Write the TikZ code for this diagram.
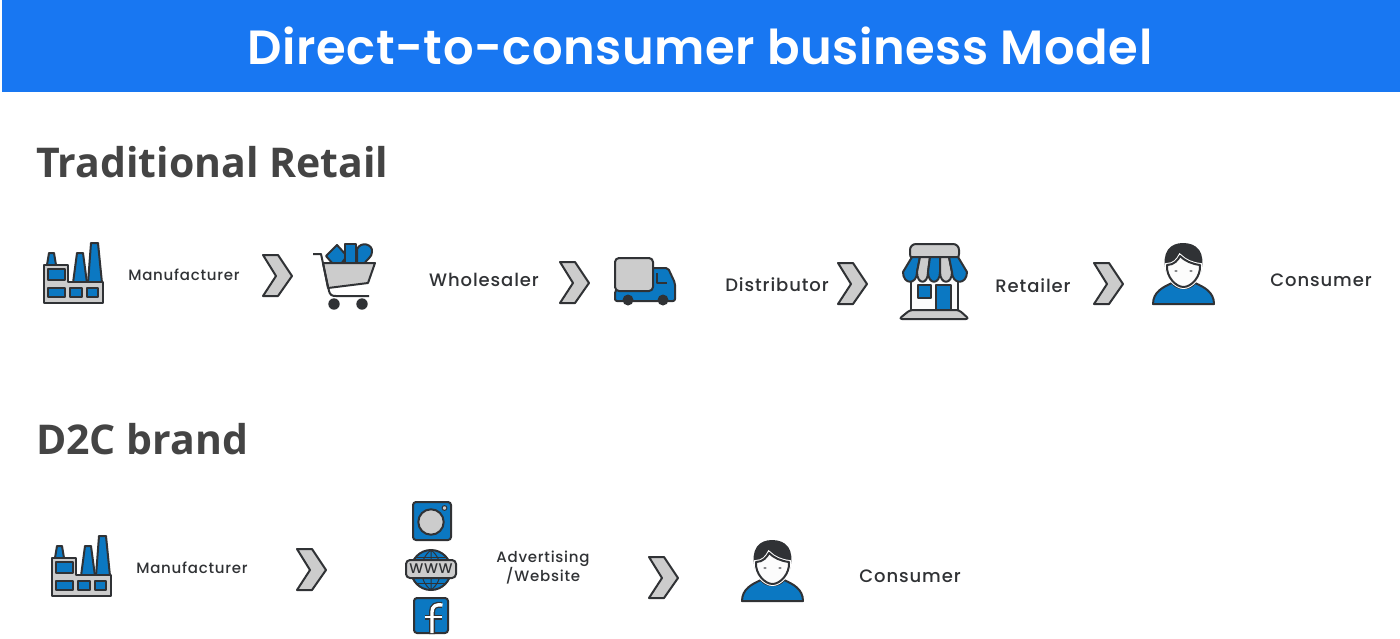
\documentclass[tikz,border=0pt]{standalone}
\usepackage{fontspec}
\setmainfont{Poppins}
\newfontfamily\headfont{Open Sans}
\newfontfamily\titlefont[LetterSpace=1.2]{Poppins SemiBold}
\newfontfamily\lblfont[LetterSpace=5]{Poppins Medium}
\usetikzlibrary{positioning}

\definecolor{bannerblue}{HTML}{1877F2}
\definecolor{iconblue}{HTML}{0B78C2}
\definecolor{icongrey}{HTML}{CCCCCC}
\definecolor{iconline}{HTML}{303235}
\definecolor{headgrey}{HTML}{444444}

\tikzset{
 icon/.style={draw=iconline, line width=2pt, line join=round},
 headtext/.style={font=\headfont\bfseries\fontsize{41}{44}\selectfont, text=headgrey, anchor=west, inner sep=0pt},
 biglabel/.style={font=\lblfont\fontsize{18}{20}\selectfont, text=iconline, inner sep=0pt},
 smalllabel/.style={font=\lblfont\fontsize{15}{19}\selectfont, text=iconline, inner sep=0pt, align=center},
 chevronicon/.pic={
  \draw[icon, fill=icongrey] (0,0) -- (15,0) -- (29,21) -- (15,41) -- (0,41) -- (13,21) -- cycle;
 },
 factoryicon/.pic={
  \draw[icon, fill=iconblue] (3,22) -- (5,10) -- (10,10) -- (12,22) -- cycle;
  \draw[icon, fill=iconblue] (29,40) -- (33,10) -- (39,10) -- (43,40) -- cycle;
  \draw[icon, fill=iconblue] (44,40) -- (47,0) -- (54,0) -- (58,40) -- cycle;
  \draw[icon, fill=icongrey] (0,22) -- (24,22) -- (24,39) -- (59,39) -- (59,60) -- (0,60) -- cycle;
  \foreach \xa/\ya/\xb/\yb in {3.5/26/21/37, 3.5/45/21/54, 26/45/38/54, 43/45/54/54}
   \draw[icon, fill=iconblue] (\xa,\ya) rectangle (\xb,\yb);
 },
 carticon/.pic={
  \draw[icon, fill=iconblue] (13,13) -- (24,2) -- (34,13) -- (28,21) -- (20,21) -- cycle;
  \draw[icon, fill=iconblue] (32,1) rectangle (43,21);
  \draw[icon, fill=iconblue] (44,21) -- (44,6) .. controls (48,-2) and (60,1) .. (59,9) .. controls (59,14) and (54,16) .. (51,21) -- cycle;
  \draw[icon, fill=icongrey] (10,20) -- (62,20) -- (55,40) -- (15,45) -- cycle;
  \draw[icon, fill=none] (0,11) -- (8,11) -- (16,48) .. controls (17,52) and (19,53) .. (23,53) -- (56,53);
  \foreach \xa in {21,49}
   \fill[iconline] (\xa,61) circle [radius=5.7];
 },
 truckicon/.pic={
  \draw[icon, fill=iconblue, rounded corners=2pt] (20,0) -- (53,0) -- (60,15) -- (60,33) -- (0,33) -- (0,23) -- cycle;
  \draw[icon, fill=none] (42,5) -- (42,15) -- (52,15);
  \draw[icon, fill=icongrey, rounded corners=4pt] (0,23) -- (0,-10) -- (38,-10) -- (38,23) -- cycle;
  \foreach \xa in {13,48}
   \fill[iconline] (\xa,32) circle [radius=5.5];
 },
 storeicon/.pic={
  \draw[icon, fill=white!93!icongrey] (12,30) rectangle (59,66);
  \draw[icon, fill=iconblue] (19,41) rectangle (32,54);
  \draw[icon, fill=iconblue] (37,41) rectangle (52,66);
  \draw[icon, fill=icongrey, rounded corners=3pt] (11,66) -- (60,66) -- (70,75) -- (0,75) -- cycle;
  \draw[icon, fill=icongrey, rounded corners=6pt] (11,16) -- (11,0) -- (60,0) -- (60,16) -- cycle;
  \foreach \a/\b/\c/\d/\col in {13/21/4/18/iconblue, 21/31/18/29/icongrey, 31/41/29/41/iconblue, 41/50/41/53/icongrey, 50/59/53/68/iconblue}
   \draw[icon, fill=\col] (\a,13) -- (\b,13) -- (\d,28) .. controls (\d,41) and (\c,41) .. (\c,28) -- cycle;
 },
 personicon/.pic={
  \draw[icon, fill=iconblue] (0,60) .. controls (0,48) and (10,43) .. (19,39) .. controls (24,46) and (37,46) .. (42,39) .. controls (51,43) and (61,48) .. (61,60) -- cycle;
  \draw[icon, fill=iconline] (14,28) .. controls (9,8) and (18,0) .. (30,0) .. controls (43,0) and (52,8) .. (47,28) -- cycle;
  \draw[white, line width=4pt, fill=white!95!icongrey] (14,21) .. controls (21,21) and (25,16) .. (27,12) .. controls (32,17) and (39,20) .. (47,21) .. controls (48,33) and (38,43) .. (30.5,43) .. controls (23,43) and (13,33) .. (14,21) -- cycle;
  \draw[icon, fill=white!95!icongrey] (14,21) .. controls (21,21) and (25,16) .. (27,12) .. controls (32,17) and (39,20) .. (47,21) .. controls (48,33) and (38,43) .. (30.5,43) .. controls (23,43) and (13,33) .. (14,21) -- cycle;
  \foreach \xa in {23,38}
   \fill[iconline!70] (\xa,27) ellipse [x radius=1.8, y radius=1];
 },
 instaicon/.pic={
  \draw[icon, fill=iconblue, rounded corners=3pt] (0,0) rectangle (38,38);
  \draw[icon, fill=icongrey] (18,20) circle [radius=12.7];
  \draw[icon, fill=icongrey, line width=1pt] (31.5,6) circle [radius=2.4];
 },
 globeicon/.pic={
  \draw[icon, fill=iconblue] (25,10) circle [radius=20];
  \draw[icon, fill=none, line width=1pt] (25,-10) .. controls (12,0) and (12,20) .. (25,30) .. controls (38,20) and (38,0) .. (25,-10) -- (25,30);
  \draw[icon, line width=1pt] (10,-3) -- (40,-3);
  \draw[icon, line width=1pt] (10,23) -- (40,23);
  \draw[icon, fill=icongrey, rounded corners=4pt] (0,0) rectangle (50,18);
 },
 fbicon/.pic={
  \draw[icon, fill=iconblue, rounded corners=3pt] (0,0) rectangle (34,35);
  \draw[iconline, line width=6pt] (18,36) -- (18,14) .. controls (18,8) and (22,6) .. (28,7);
  \draw[iconline, line width=5pt] (11,19) -- (28,19);
  \draw[white, line width=3.4pt] (18,35) -- (18,14) .. controls (18,8) and (22,6) .. (28.5,7);
  \draw[white, line width=2.6pt] (10.5,19) -- (28,19);
 }
}

\begin{document}
\begin{tikzpicture}[x=1pt, y=-1pt]
\useasboundingbox (0,0) rectangle (1400,638);

% banner
\fill[bannerblue] (2,0) rectangle (1400,92);
\node[font=\titlefont\fontsize{48}{50}\selectfont, text=white, inner sep=0pt] (title) at (700,46) {Direct-to-consumer business Model};

% headings
\node[headtext] (retailhead) at (36,162) {Traditional Retail};
\node[headtext] (brandhead) at (36,439) {D2C brand};

% chevrons
\foreach \n/\x/\y in {chevA/263/255, chevB/560/262, chevC/838/263, chevD/1094/263, chevE/297/549, chevF/649/557}
 \pic (\n) at (\x,\y) {chevronicon};

% first row
\pic (factoryA) at (44,243) {factoryicon};
\pic (cart) at (313,243) {carticon};
\pic (truck) at (615,268) {truckicon};
\pic (store) at (899,244) {storeicon};
\pic (personA) at (1153,244) {personicon};

\node[smalllabel] (manuA) at (184,275) {Manufacturer};
\node[biglabel] (whole) at (484,280) {Wholesaler};
\node[biglabel] (distr) at (777,285) {Distributor};
\node[biglabel] (retail) at (1033,286) {Retailer};
\node[biglabel] (consA) at (1321,280) {Consumer};

% second row
\pic (factoryB) at (52,536) {factoryicon};
\pic (insta) at (413,502) {instaicon};
\pic (globe) at (406,560) {globeicon};
\pic (fb) at (414,598) {fbicon};
\pic (personB) at (742,541) {personicon};

\node[font=\lblfont\fontsize{14}{14}\selectfont, text=iconline, inner sep=0pt] (www) at (431,569) {WWW};
\node[smalllabel] (manuB) at (192,568) {Manufacturer};
\node[smalllabel] (adv) at (543,568) {Advertising\\/Website};
\node[biglabel] (consB) at (910,576) {Consumer};

\end{tikzpicture}
\end{document}
